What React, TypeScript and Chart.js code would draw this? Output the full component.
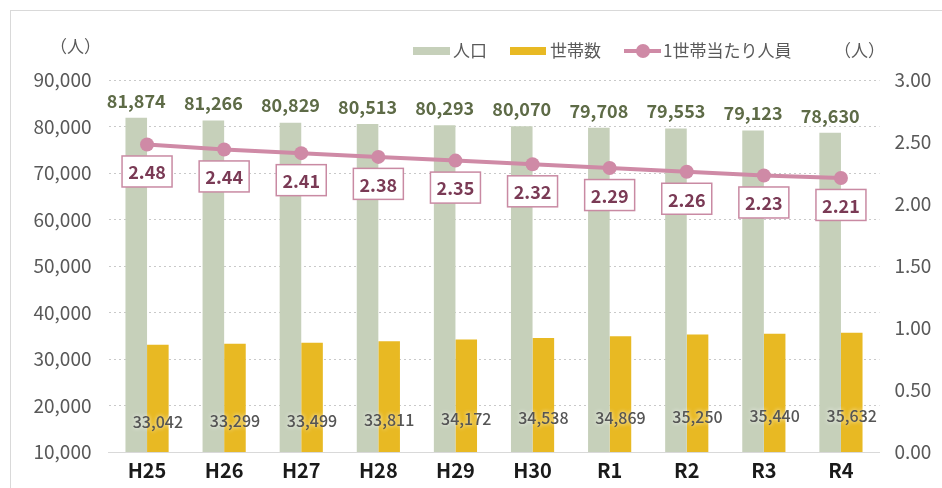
import React, { useEffect, useRef } from "react";
import { Chart, registerables } from "chart.js";
Chart.register(...registerables);

const categories = ["H25", "H26", "H27", "H28", "H29", "H30", "R1", "R2", "R3", "R4"];
const population = [81874, 81266, 80829, 80513, 80293, 80070, 79708, 79553, 79123, 78630];
const households = [33042, 33299, 33499, 33811, 34172, 34538, 34869, 35250, 35440, 35632];
const perHousehold = [2.48, 2.44, 2.41, 2.38, 2.35, 2.32, 2.29, 2.26, 2.23, 2.21];
const seriesNames = ["人口", "世帯数", "1世帯当たり人員"];
const unitLabel = "（人）";

const FONT = "'Noto Sans CJK JP', 'Noto Sans', sans-serif";
const POP_COLOR = "#c6d0ba";
const HH_COLOR = "#e8b923";
const LINE_COLOR = "#cf8aa6";
const TEXT = "#595959";

const fmt = (v: number) => v.toLocaleString("en-US");

const decorPlugin = {
  id: "decor",
  beforeDraw(chart: any) {
    const ctx = chart.ctx;
    ctx.save();
    ctx.fillStyle = "#ffffff";
    ctx.fillRect(0, 0, chart.width, chart.height);
    ctx.strokeStyle = "#d9d9d9";
    ctx.lineWidth = 1;
    ctx.strokeRect(10.5, 10.5, chart.width + 20, chart.height + 20);
    ctx.restore();
  },
  afterDatasetsDraw(chart: any) {
    const ctx = chart.ctx;
    const m0 = chart.getDatasetMeta(0);
    const m1 = chart.getDatasetMeta(1);
    const m2 = chart.getDatasetMeta(2);
    ctx.save();
    // population labels
    ctx.font = `bold 18px ${FONT}`;
    ctx.fillStyle = "#5e6b47";
    ctx.textAlign = "center";
    ctx.textBaseline = "bottom";
    m0.data.forEach((el: any, i: number) => {
      ctx.fillText(fmt(population[i]), el.x, el.y - 8);
    });
    // household labels
    ctx.font = `500 16px ${FONT}`;
    ctx.textBaseline = "middle";
    m1.data.forEach((el: any, i: number) => {
      const y = (el.y + el.base) / 2;
      ctx.shadowColor = "rgba(255,255,255,0.9)";
      ctx.shadowBlur = 4;
      ctx.fillStyle = "#555555";
      ctx.fillText(fmt(households[i]), el.x, y);
    });
    ctx.shadowBlur = 0;
    ctx.shadowColor = "rgba(0,0,0,0)";
    // per-household boxes
    ctx.font = `bold 18px ${FONT}`;
    m2.data.forEach((el: any, i: number) => {
      const cx = el.x;
      const cy = el.y + 27;
      const w = 50;
      const h = 31;
      ctx.fillStyle = "#ffffff";
      ctx.fillRect(cx - w / 2, cy - h / 2, w, h);
      ctx.strokeStyle = "#c98aa3";
      ctx.lineWidth = 1.5;
      ctx.strokeRect(cx - w / 2, cy - h / 2, w, h);
      ctx.fillStyle = "#7a3a55";
      ctx.fillText(perHousehold[i].toFixed(2), cx, cy + 1);
    });
    ctx.restore();
  },
  afterDraw(chart: any) {
    const ctx = chart.ctx;
    ctx.save();
    ctx.font = `17px ${FONT}`;
    ctx.fillStyle = TEXT;
    ctx.textBaseline = "middle";
    ctx.textAlign = "left";
    const y = 51;
    // 人口
    ctx.fillStyle = POP_COLOR;
    ctx.fillRect(413, y - 4, 37, 8);
    ctx.fillStyle = TEXT;
    ctx.fillText(seriesNames[0], 453, y);
    // 世帯数
    ctx.fillStyle = HH_COLOR;
    ctx.fillRect(510, y - 4, 36, 8);
    ctx.fillStyle = TEXT;
    ctx.fillText(seriesNames[1], 550, y);
    // line
    ctx.strokeStyle = LINE_COLOR;
    ctx.lineWidth = 4;
    ctx.beginPath();
    ctx.moveTo(624, y);
    ctx.lineTo(661, y);
    ctx.stroke();
    ctx.fillStyle = LINE_COLOR;
    ctx.beginPath();
    ctx.arc(643, y, 7, 0, Math.PI * 2);
    ctx.fill();
    ctx.fillStyle = TEXT;
    ctx.fillText(seriesNames[2], 663, y);
    // units
    ctx.fillText(unitLabel, 834, y);
    ctx.fillText(unitLabel, 50, 47);
    ctx.restore();
  },
};

export default function App() {
  const ref = useRef<HTMLCanvasElement | null>(null);
  useEffect(() => {
    if (!ref.current) return;
    const chart = new Chart(ref.current, {
      type: "bar",
      data: {
        labels: categories,
        datasets: [
          {
            type: "bar",
            label: seriesNames[0],
            data: population,
            backgroundColor: POP_COLOR,
            yAxisID: "y",
            order: 1,
            categoryPercentage: 0.56,
            barPercentage: 1.0,
          },
          {
            type: "bar",
            label: seriesNames[1],
            data: households,
            backgroundColor: HH_COLOR,
            yAxisID: "y",
            order: 1,
            categoryPercentage: 0.56,
            barPercentage: 1.0,
          },
          {
            type: "line",
            label: seriesNames[2],
            data: perHousehold,
            borderColor: LINE_COLOR,
            backgroundColor: LINE_COLOR,
            borderWidth: 4,
            pointRadius: 7,
            pointBackgroundColor: LINE_COLOR,
            pointBorderWidth: 0,
            yAxisID: "y1",
            order: 0,
          } as any,
        ],
      },
      options: {
        responsive: false,
        animation: false,
        layout: { padding: { top: 80, left: 0, right: 0, bottom: 0 } },
        plugins: {
          legend: { display: false },
          tooltip: { enabled: false },
        },
        scales: {
          x: {
            grid: { display: false, drawTicks: false },
            border: { display: true, color: "#d9d9d9", width: 1 },
            ticks: {
              color: "#1a1a1a",
              font: { family: FONT, size: 20, weight: "bold" },
              padding: 6,
            },
            afterFit: (s: any) => {
              s.height = 36;
            },
          },
          y: {
            position: "left",
            min: 10000,
            max: 90000,
            ticks: {
              stepSize: 10000,
              color: TEXT,
              font: { family: FONT, size: 19 },
              padding: 17,
              callback: (v: any) => fmt(Number(v)),
            },
            grid: {
              color: (c: any) => (c.tick && c.tick.value === 10000 ? "rgba(0,0,0,0)" : "#c9c9c9"),
              drawTicks: false,
            },
            border: { display: false, dash: [2, 3] },
            afterFit: (s: any) => {
              s.width = 108.5;
            },
          },
          y1: {
            position: "right",
            min: 0,
            max: 3,
            ticks: {
              stepSize: 0.5,
              color: TEXT,
              font: { family: FONT, size: 19 },
              padding: 15,
              callback: (v: any) => Number(v).toFixed(2),
            },
            grid: { display: false, drawTicks: false },
            border: { display: false },
            afterFit: (s: any) => {
              s.width = 62.5;
            },
          },
        },
      } as any,
      plugins: [decorPlugin],
    });
    return () => chart.destroy();
  }, []);
  return (
    <div style={{ position: "fixed", left: 0, top: 0, width: 942, height: 488, background: "#fff" }}>
      <canvas ref={ref} width={942} height={488} style={{ display: "block" }} />
    </div>
  );
}
